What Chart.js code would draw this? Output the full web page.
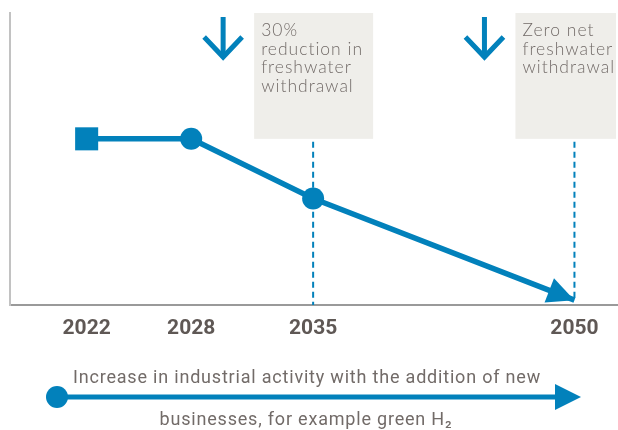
<!DOCTYPE html>
<html>
<head>
<meta charset="utf-8">
<script src="https://cdn.jsdelivr.net/npm/chart.js@4.4.1/dist/chart.umd.min.js"></script>
<style>
  html, body { margin: 0; padding: 0; background: #fff; }
  #wrap { width: 618px; height: 430px; position: relative; }
</style>
</head>
<body>
<div id="wrap"><canvas id="chart"></canvas></div>
<script>
// data (index, 2022 = 100)
const years = [2022, 2028, 2035, 2050];
const withdrawal = [100, 100, 63, 0];
const tickYears = [2022, 2028, 2035, 2050];
const milestoneYears = [2035, 2050];
const milestoneNotes = [
    ["30%", "reduction in", "freshwater", "withdrawal"],
    ["Zero net", "freshwater", "withdrawal"]
];
const bottomNote = ["Increase in industrial activity with the addition of new", "businesses, for example green H\u2082"];

const blue = "#0281bb";
const boxFill = "#efeeea";
const noteGrey = "#726b68";

function downArrow(ctx, cx, top) {
    ctx.save();
    ctx.strokeStyle = blue;
    ctx.lineWidth = 5;
    ctx.lineCap = "butt";
    ctx.lineJoin = "miter";
    ctx.beginPath();
    ctx.moveTo(cx, top);
    ctx.lineTo(cx, top + 40);
    ctx.stroke();
    ctx.beginPath();
    ctx.moveTo(cx - 19, top + 20);
    ctx.lineTo(cx, top + 40);
    ctx.lineTo(cx + 19, top + 20);
    ctx.stroke();
    ctx.restore();
}

// grey boxes, arrows and dashed guides for the milestones
const milestones = {
    id: "milestones",
    beforeDatasetsDraw(chart) {
        const ctx = chart.ctx;
        const x = chart.scales.x, y = chart.scales.y;
        const area = chart.chartArea;
        const boxBottom = y.getPixelForValue(withdrawal[0]);
        ctx.save();
        milestoneYears.forEach((yr, i) => {
            const px = x.getPixelForValue(yr);
            const left = px - 59;
            const right = Math.min(left + 119, area.right - 2);
            ctx.fillStyle = boxFill;
            ctx.fillRect(left, area.top, right - left, boxBottom - area.top);

            ctx.fillStyle = noteGrey;
            ctx.font = "300 17.5px Lato";
            ctx.letterSpacing = "1px";
            ctx.textAlign = "left";
            ctx.textBaseline = "alphabetic";
            milestoneNotes[i].forEach((t, j) => ctx.fillText(t, left + 7, 36 + j * 18.5));
            ctx.letterSpacing = "0px";

            downArrow(ctx, left - 31, 17);

            const end = i === 0 ? area.bottom : y.getPixelForValue(withdrawal[withdrawal.length - 1]);
            ctx.strokeStyle = blue;
            ctx.lineWidth = 2;
            ctx.setLineDash([6, 4]);
            ctx.beginPath();
            ctx.moveTo(px, boxBottom + 3);
            ctx.lineTo(px, end);
            ctx.stroke();
            ctx.setLineDash([]);
        });
        ctx.restore();
    }
};

// arrow head at the end of the line
const endArrow = {
    id: "endArrow",
    afterDatasetsDraw(chart) {
        const pts = chart.getDatasetMeta(0).data;
        const a = pts[pts.length - 2], b = pts[pts.length - 1];
        const ang = Math.atan2(b.y - a.y, b.x - a.x);
        const ctx = chart.ctx;
        const len = 27, half = 13;
        const bx = b.x - Math.cos(ang) * len, by = b.y - Math.sin(ang) * len;
        ctx.save();
        ctx.fillStyle = blue;
        ctx.beginPath();
        ctx.moveTo(b.x, b.y);
        ctx.lineTo(bx + Math.sin(ang) * half, by - Math.cos(ang) * half);
        ctx.lineTo(bx - Math.sin(ang) * half, by + Math.cos(ang) * half);
        ctx.closePath();
        ctx.fill();
        ctx.restore();
    }
};

// timeline arrow with caption under the axis
const bottomTimeline = {
    id: "bottomTimeline",
    afterDraw(chart) {
        const ctx = chart.ctx;
        const ly = 397;
        ctx.save();
        ctx.strokeStyle = blue;
        ctx.fillStyle = blue;
        ctx.lineWidth = 5;
        ctx.beginPath();
        ctx.moveTo(57, ly);
        ctx.lineTo(560, ly);
        ctx.stroke();
        ctx.beginPath();
        ctx.arc(57, ly, 11, 0, Math.PI * 2);
        ctx.fill();
        ctx.beginPath();
        ctx.moveTo(555, ly - 13);
        ctx.lineTo(581, ly);
        ctx.lineTo(555, ly + 13);
        ctx.closePath();
        ctx.fill();

        ctx.fillStyle = noteGrey;
        ctx.font = "18px Roboto";
        ctx.letterSpacing = "0.8px";
        ctx.textAlign = "center";
        ctx.textBaseline = "alphabetic";
        ctx.fillText(bottomNote[0], 307, 383);
        ctx.fillText(bottomNote[1], 306, 425);
        ctx.restore();
    }
};

new Chart(document.getElementById("chart"), {
    type: "line",
    data: {
        datasets: [{
            data: years.map((yr, i) => ({ x: yr, y: withdrawal[i] })),
            borderColor: blue,
            borderWidth: 5.5,
            backgroundColor: blue,
            pointBackgroundColor: blue,
            pointBorderWidth: 0,
            pointStyle: ["rect", "circle", "circle", "circle"],
            pointRadius: [16.3, 11, 11, 0],
            pointHoverRadius: [16.3, 11, 11, 0],
            tension: 0,
            clip: false
        }]
    },
    options: {
        responsive: true,
        maintainAspectRatio: false,
        animation: false,
        events: [],
        layout: { autoPadding: false, padding: { top: 13, bottom: 95, left: 0, right: 0 } },
        plugins: {
            legend: { display: false },
            tooltip: { enabled: false }
        },
        scales: {
            x: {
                type: "linear",
                min: 2017.6,
                max: 2052.5,
                afterBuildTicks: s => { s.ticks = tickYears.map(v => ({ value: v })); },
                afterFit: s => { s.height = 30; s.paddingLeft = 0; s.paddingRight = 0; },
                grid: { display: false, drawTicks: false },
                border: { display: true, color: "#9a9a9a", width: 2 },
                ticks: {
                    padding: 11,
                    color: "#5f5855",
                    font: { family: "Roboto", size: 21, weight: "bold" },
                    callback: v => String(v),
                    maxRotation: 0
                }
            },
            y: {
                min: -3,
                max: 178,
                afterFit: s => { s.width = 10; },
                grid: { display: false, drawTicks: false },
                border: { display: true, color: "#c2c2c2", width: 2 },
                ticks: { display: false }
            }
        }
    },
    plugins: [milestones, endArrow, bottomTimeline]
});
</script>
</body>
</html>
